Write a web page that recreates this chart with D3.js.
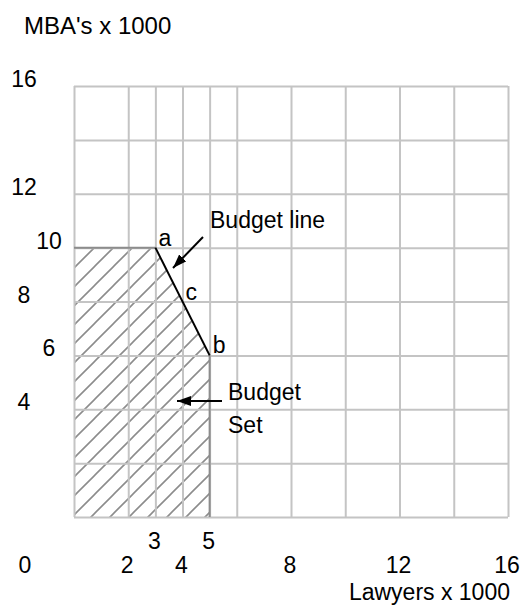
<!DOCTYPE html>
<html>
<head>
<meta charset="utf-8">
<script src="https://d3js.org/d3.v7.min.js"></script>
<style>
  body { margin: 0; background: #fff; }
  text { font-family: "Liberation Sans", Arial, sans-serif; fill: #000; }
</style>
</head>
<body>
<div id="chart"></div>
<script>
// grid positions (thousands)
const xGrid = [0, 2, 3, 4, 5, 6, 8, 10, 12, 14, 16];
const yGrid = [0, 2, 4, 6, 8, 10, 12, 14, 16];

// tick labels: x in two rows, y in two columns
const xLabelsLow = [2, 4, 8, 12, 16];
const xLabelsHigh = [3, 5];
const yLabelsOuter = [4, 8, 12, 16];
const yLabelsInner = [6, 10];

// budget set and budget line
const budgetSet = [[0, 0], [0, 10], [3, 10], [5, 6], [5, 0]];
const budgetLine = [[3, 10], [5, 6]];
const pointNames = ["a", "c", "b"];
const pointX = [3, 4, 5];
const pointY = [10, 8, 6];

const w = 521, h = 608;
const padL = 74, padR = 508, padT = 86, padB = 517;

const x = d3.scaleLinear().domain([0, 16]).range([padL, padR]);
const y = d3.scaleLinear().domain([0, 16]).range([padB, padT]);

const svg = d3.select("#chart").append("svg")
  .attr("width", w)
  .attr("height", h);

// hatch pattern
const defs = svg.append("defs");
const pat = defs.append("pattern")
  .attr("id", "hatch")
  .attr("patternUnits", "userSpaceOnUse")
  .attr("width", 19)
  .attr("height", 19);
pat.append("path")
  .attr("d", "M-1,20 L20,-1 M-5,5 L5,-5 M14,24 L24,14")
  .attr("stroke", "#8c8c8c")
  .attr("stroke-width", 1.6);

// budget set area
svg.append("path")
  .datum(budgetSet)
  .attr("d", d3.line().x(d => x(d[0])).y(d => y(d[1])))
  .attr("fill", "url(#hatch)")
  .attr("stroke", "none");

// grid
const gx = svg.append("g")
  .attr("transform", "translate(0," + padB + ")")
  .call(d3.axisBottom(x).tickValues(xGrid).tickSize(-(padB - padT)).tickFormat(""));
const gy = svg.append("g")
  .attr("transform", "translate(" + padL + ",0)")
  .call(d3.axisLeft(y).tickValues(yGrid).tickSize(-(padR - padL)).tickFormat(""));
[gx, gy].forEach(g => {
  g.select(".domain").remove();
  g.selectAll("line").attr("stroke", "#c4c4c4").attr("stroke-width", 2);
});

// edges of the budget set
svg.append("path")
  .datum([[0, 10], [3, 10]])
  .attr("d", d3.line().x(d => x(d[0])).y(d => y(d[1])))
  .attr("stroke", "#8c8c8c").attr("stroke-width", 2).attr("fill", "none");
svg.append("path")
  .datum([[5, 6], [5, 0]])
  .attr("d", d3.line().x(d => x(d[0])).y(d => y(d[1])))
  .attr("stroke", "#8c8c8c").attr("stroke-width", 2).attr("fill", "none");

// budget line
svg.append("path")
  .datum(budgetLine)
  .attr("d", d3.line().x(d => x(d[0])).y(d => y(d[1])))
  .attr("stroke", "#000").attr("stroke-width", 2).attr("fill", "none");

// point labels
svg.selectAll(".pt")
  .data(pointNames)
  .enter().append("text")
  .attr("x", (d, i) => x(pointX[i]) + 3)
  .attr("y", (d, i) => y(pointY[i]) - 2)
  .style("font-size", "23px")
  .text(d => d);

// arrows
defs.append("marker")
  .attr("id", "arrow")
  .attr("viewBox", "0 0 14 10")
  .attr("refX", 14).attr("refY", 5)
  .attr("markerWidth", 14).attr("markerHeight", 10)
  .attr("markerUnits", "userSpaceOnUse")
  .attr("orient", "auto")
  .append("path")
  .attr("d", "M0,0 L14,5 L0,10 Z")
  .attr("fill", "#000");

function arrow(x1, y1, x2, y2) {
  svg.append("line")
    .attr("x1", x1).attr("y1", y1).attr("x2", x2).attr("y2", y2)
    .attr("stroke", "#000").attr("stroke-width", 2)
    .attr("marker-end", "url(#arrow)");
}
arrow(203, 237, 173, 268);
arrow(222, 401, 177, 401);

svg.append("text").attr("x", 210).attr("y", 228)
  .style("font-size", "23px").text("Budget line");
svg.append("text").attr("x", 228).attr("y", 400)
  .style("font-size", "23px").text("Budget");
svg.append("text").attr("x", 228).attr("y", 433)
  .style("font-size", "23px").text("Set");

// y labels
svg.selectAll(".yo")
  .data(yLabelsOuter)
  .enter().append("text")
  .attr("x", 24).attr("y", d => y(d) + 1)
  .attr("text-anchor", "middle")
  .style("font-size", "23px")
  .text(d => d);
svg.selectAll(".yi")
  .data(yLabelsInner)
  .enter().append("text")
  .attr("x", 49).attr("y", d => y(d) + 1)
  .attr("text-anchor", "middle")
  .style("font-size", "23px")
  .text(d => d);

// x labels
svg.selectAll(".xl")
  .data(xLabelsLow)
  .enter().append("text")
  .attr("x", d => x(d) - 1).attr("y", 573)
  .attr("text-anchor", "middle")
  .style("font-size", "23px")
  .text(d => d);
svg.selectAll(".xh")
  .data(xLabelsHigh)
  .enter().append("text")
  .attr("x", d => x(d) - 1).attr("y", 549)
  .attr("text-anchor", "middle")
  .style("font-size", "23px")
  .text(d => d);
svg.append("text").attr("x", 25).attr("y", 573)
  .attr("text-anchor", "middle")
  .style("font-size", "23px").text("0");

// axis titles
svg.append("text").attr("x", 24).attr("y", 34)
  .style("font-size", "24px").text("MBA's x 1000");
svg.append("text").attr("x", 510).attr("y", 600)
  .attr("text-anchor", "end")
  .style("font-size", "23px").text("Lawyers x 1000");
</script>
</body>
</html>
